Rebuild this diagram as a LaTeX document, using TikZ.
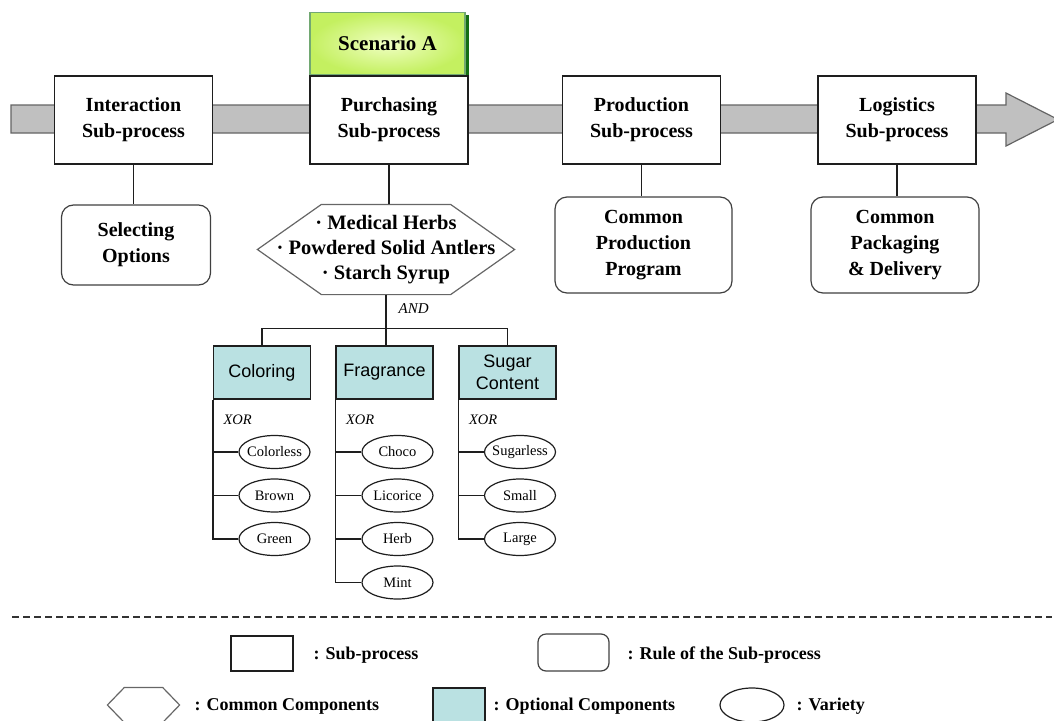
\documentclass[tikz,border=0pt]{standalone}
\usepackage{fontspec}
\setmainfont{Liberation Serif}
\setsansfont{Liberation Sans}
\usetikzlibrary{calc,shapes.geometric}

\definecolor{bandgray}{RGB}{192,192,192}
\definecolor{bandedge}{RGB}{100,100,100}
\definecolor{optfill}{RGB}{186,225,226}
\definecolor{scenin}{RGB}{240,255,195}
\definecolor{scenout}{RGB}{196,240,96}
\definecolor{scenshade}{RGB}{20,110,20}
\definecolor{ink}{RGB}{30,30,30}

% variety labels keep the ellipse at its fixed size
\newcommand{\varlabel}[1]{\makebox[0pt]{#1}}

\begin{document}
\begin{tikzpicture}[x=1pt,y=-1pt,
  line width=1.2pt,
  lbl/.style={font=\bfseries\fontsize{20}{26}\selectfont, align=center, text=black},
  subbox/.style={draw=ink, fill=white, minimum width=158pt, minimum height=88pt, inner sep=0pt, lbl},
  rulebox/.style={draw=black!75, fill=white, rounded corners=12pt, inner sep=0pt, lbl},
  scenbox/.style={draw=scenshade!60, shading=radial, inner color=scenin, outer color=scenout,
    minimum width=155pt, minimum height=62.5pt, inner sep=0pt, font=\bfseries\fontsize{21}{24}\selectfont},
  hextext/.style={minimum width=256pt, minimum height=89pt, inner sep=0pt, align=center,
    font=\bfseries\fontsize{20.5}{25}\selectfont},
  hexline/.style={draw=black!60, line width=1.2pt},
  optbox/.style={draw=ink, fill=optfill, minimum width=97pt, minimum height=53pt, inner sep=0pt,
    align=center, font=\sffamily\fontsize{18}{22}\selectfont},
  variety/.style={draw=ink, ellipse, minimum width=71pt, minimum height=33pt, inner sep=0pt,
    font=\fontsize{14.5}{17}\selectfont},
  gate/.style={font=\itshape\fontsize{14.5}{16}\selectfont, inner sep=0pt, anchor=west},
  link/.style={draw=ink, line width=1.2pt},
  legtext/.style={font=\bfseries\fontsize{18}{20}\selectfont, anchor=west, inner sep=0pt},
]
\useasboundingbox (0,0) rectangle (1054,720);

% process band with arrow head
\draw[fill=bandgray, draw=bandedge, line width=1.2pt]
  (11,105) -- (1006,105) -- (1006,93) -- (1058,119.5) -- (1006,146) -- (1006,133) -- (11,133) -- cycle;

% sub-processes
\node[subbox] (inter) at (133.5,120) {Interaction\\Sub-process};
\node[subbox] (purch) at (389,120) {Purchasing\\Sub-process};
\node[subbox] (prod)  at (641.5,120) {Production\\Sub-process};
\node[subbox] (logi)  at (897,120) {Logistics\\Sub-process};

% scenario tag
\node[scenbox, anchor=south west] (scen) at (purch.north west) {Scenario A};
\fill[scenshade] ($(scen.north east)+(0,3)$) rectangle ($(scen.south east)+(3,0)$);

% rules of the sub-processes
\node[rulebox, minimum width=149pt, minimum height=80pt] (sel) at (136,245) {Selecting\\Options};
\node[rulebox, minimum width=177pt, minimum height=96pt] (cpp) at (643.5,245) {Common\\Production\\Program};
\node[rulebox, minimum width=168pt, minimum height=96pt] (cpd) at (895,245) {Common\\Packaging\\\& Delivery};

\draw[link] (inter.south) -- (inter.south |- sel.north);
\draw[link] (prod.south) -- (prod.south |- cpp.north);
\draw[link] (logi.south) -- (logi.south |- cpd.north);

% common components
\node[hextext] (hex) at (386,249.5) {· Medical Herbs\\· Powdered Solid Antlers\\· Starch Syrup};
\draw[hexline] (hex.west) -- ($(hex.north west)+(64,0)$) -- ($(hex.north east)+(-64,0)$)
  -- (hex.east) -- ($(hex.south east)+(-64,0)$) -- ($(hex.south west)+(64,0)$) -- cycle;
\draw[link] (purch.south) -- (purch.south |- hex.north);

\node[gate, font=\itshape\fontsize{15}{16}\selectfont] (andlbl) at ($(hex.south)+(12,14)$) {AND};
\coordinate (bar) at ($(hex.south)+(0,34)$);

% optional components
\node[optbox] (col) at (262,372.5) {Coloring};
\node[optbox] (fra) at (384.5,372.5) {Fragrance};
\node[optbox] (sug) at (507.5,372.5) {Sugar\\Content};

\draw[link] (hex.south) -- (bar);
\draw[link] (col.north) |- (bar) -| (sug.north);
\draw[link] (bar) -- (bar |- fra.north);

\node[gate] (xc) at ($(col.south west)+(10,20)$) {XOR};
\node[gate] (xf) at ($(fra.south west)+(10,20)$) {XOR};
\node[gate] (xs) at ($(sug.south west)+(10,20)$) {XOR};

% varieties
\node[variety] (c1) at (274.5,452) {\varlabel{Colorless}};
\node[variety] (c2) at (274.5,495.5) {\varlabel{Brown}};
\node[variety] (c3) at (274.5,539) {\varlabel{Green}};

\node[variety] (f1) at (397.5,452) {\varlabel{Choco}};
\node[variety] (f2) at (397.5,495.5) {\varlabel{Licorice}};
\node[variety] (f3) at (397.5,539) {\varlabel{Herb}};
\node[variety] (f4) at (397.5,582.5) {\varlabel{Mint}};

\node[variety] (s1) at (520,452) {\varlabel{Sugarless}};
\node[variety] (s2) at (520,495.5) {\varlabel{Small}};
\node[variety] (s3) at (520,539) {\varlabel{Large}};

\draw[link] (col.south west) |- (c3.west);
\draw[link] (col.south west |- c1.west) -- (c1.west);
\draw[link] (col.south west |- c2.west) -- (c2.west);

\draw[link] (fra.south west) |- (f4.west);
\draw[link] (fra.south west |- f1.west) -- (f1.west);
\draw[link] (fra.south west |- f2.west) -- (f2.west);
\draw[link] (fra.south west |- f3.west) -- (f3.west);

\draw[link] (sug.south west) |- (s3.west);
\draw[link] (sug.south west |- s1.west) -- (s1.west);
\draw[link] (sug.south west |- s2.west) -- (s2.west);

% legend separator
\coordinate (sepL) at (12,617);
\coordinate (sepR) at (1052,617);
\draw[draw=black!80, line width=1.2pt, dash pattern=on 7pt off 4pt] (sepL) -- (sepR);

% legend
\node[draw=ink, minimum width=62pt, minimum height=35pt, inner sep=0pt] (lsub) at (262,653.5) {};
\node[legtext] (lsubt) at (313,655) {: Sub-process};
\node[draw=black!75, rounded corners=8pt, minimum width=71pt, minimum height=37pt, inner sep=0pt] (lrule) at (573.5,652.5) {};
\node[legtext] (lrulet) at (627,655) {: Rule of the Sub-process};

\node[minimum width=71pt, minimum height=34pt, inner sep=0pt] (lhex) at (143.5,705) {};
\draw[hexline] (lhex.west) -- ($(lhex.north west)+(17,0)$) -- ($(lhex.north east)+(-17,0)$)
  -- (lhex.east) -- ($(lhex.south east)+(-17,0)$) -- ($(lhex.south west)+(17,0)$) -- cycle;
\node[legtext] (lhext) at (194,706) {: Common Components};
\node[draw=ink, fill=optfill, minimum width=52pt, minimum height=34pt, inner sep=0pt] (lopt) at (459,705) {};
\node[legtext] (loptt) at (493,706) {: Optional Components};
\node[draw=ink, ellipse, minimum width=64pt, minimum height=34pt, inner sep=0pt] (lvar) at (752,705) {};
\node[legtext] (lvart) at (796,706) {: Variety};
\end{tikzpicture}
\end{document}
